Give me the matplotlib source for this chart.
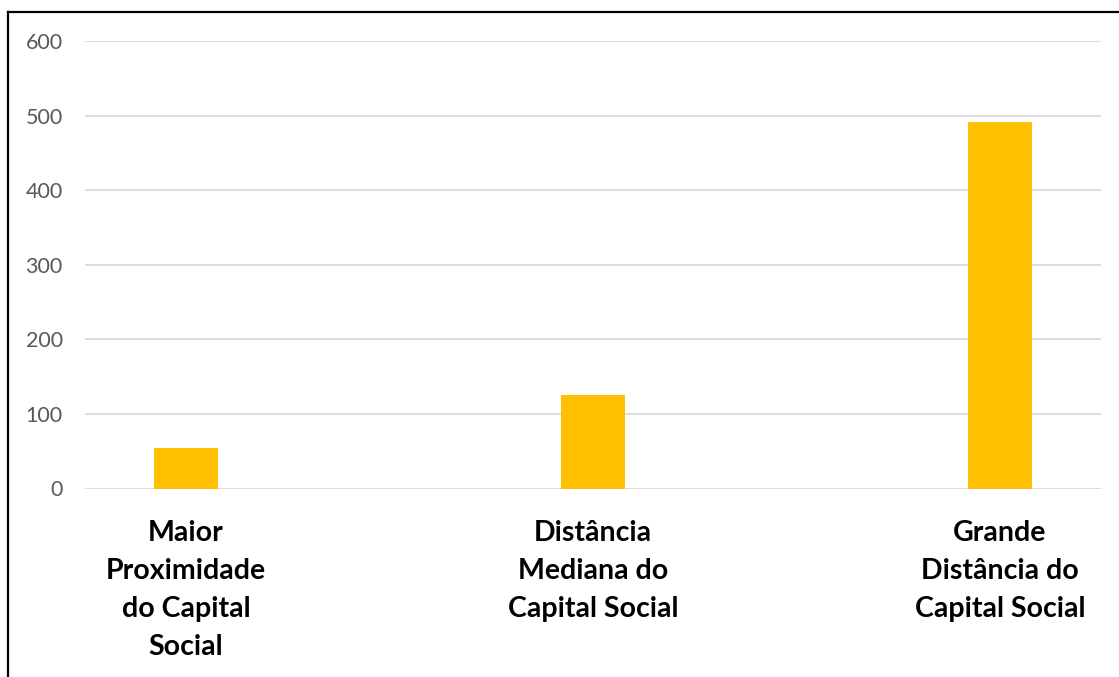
import numpy as np
import matplotlib.pyplot as plt
from matplotlib.lines import Line2D

categories = [
    "Maior\nProximidade\ndo Capital\nSocial",
    "Distância\nMediana do\nCapital Social",
    "Grande\nDistância do\nCapital Social",
]
values = [54, 126, 492]
yticks = [0, 100, 200, 300, 400, 500, 600]

plt.rcParams['font.family'] = ['Lato', 'DejaVu Sans']

W, H = 1119, 677
fig = plt.figure(figsize=(W / 100, H / 100), dpi=100)
ax = fig.add_axes([85 / W, 1 - 488.5 / H, (1101 - 85) / W, (488.5 - 41) / H])

x = np.arange(len(categories))
ax.bar(x, values, width=0.157, color="#FFC000", zorder=3)

ax.set_ylim(0, 600)
ax.set_xlim(-0.248, 2.248)
ax.set_yticks(yticks)
ax.set_yticklabels([str(t) for t in yticks], fontsize=15.5, color="#595959")
ax.tick_params(axis="y", length=0, pad=16)
ax.yaxis.grid(True, color="#D9D9D9", linewidth=1.3, zorder=0)
ax.set_axisbelow(True)

ax.set_xticks(x)
ax.set_xticklabels(categories, fontsize=20.5, fontweight="bold", color="black",
                   linespacing=1.57)
ax.tick_params(axis="x", length=0, pad=23)

for s in ax.spines.values():
    s.set_visible(False)

# outer frame (left and top edges visible)
fig.add_artist(Line2D([8 / W, 8 / W], [0, 1 - 12 / H], color="black", linewidth=1.6))
fig.add_artist(Line2D([8 / W, 1], [1 - 12 / H, 1 - 12 / H], color="black", linewidth=1.6))

fig.savefig("out.png", dpi=100)
